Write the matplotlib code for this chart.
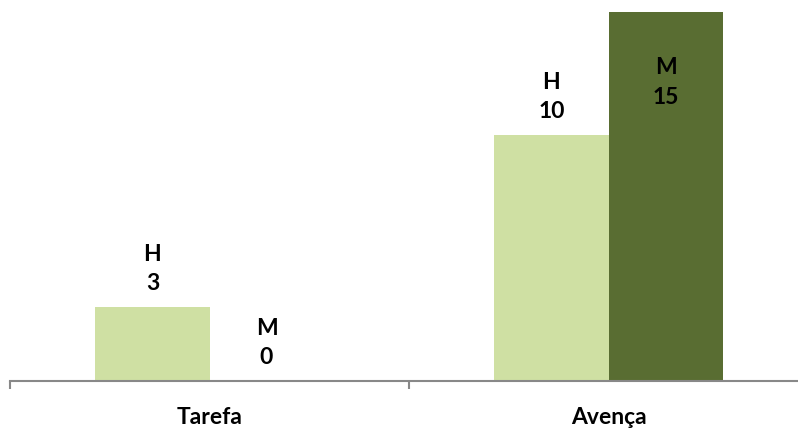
import matplotlib
matplotlib.use("Agg")

import numpy as np
import matplotlib.pyplot as plt
from matplotlib.ticker import FixedLocator

# --- Data ---
categories = ["Tarefa", "Avença"]
h_values = [3, 10]
m_values = [0, 15]
series_names = ["H", "M"]

LIGHT = "#CFE0A3"
DARK = "#596D32"
AXIS_GRAY = "#888888"

plt.rcParams["font.family"] = ["Lato", "DejaVu Sans"]
FS = 16.5

W, H = 798, 431
fig = plt.figure(figsize=(W / 100, H / 100), dpi=100)
# axes in pixel terms: x from 10 to 808, baseline at y=382 (from top)
ax = fig.add_axes([10 / W, (H - 382) / H, 798 / W, 382 / H])

x = np.arange(len(categories))
bw = 0.286
bars_h = ax.bar(x - bw / 2, h_values, bw, color=LIGHT, zorder=2)
bars_m = ax.bar(x + bw / 2, m_values, bw, color=DARK, zorder=2)

ax.set_xlim(-0.5, 1.5)
ax.set_ylim(0, 15 * 382 / 369)

for name, bars, vals in zip(series_names, [bars_h, bars_m], [h_values, m_values]):
    for b, v in zip(bars, vals):
        cx = b.get_x() + b.get_width() / 2
        if v >= 14:
            # no room above the tallest bar -> label sits inside, near the top
            ax.annotate(f"{name}\n{v}", (cx, v), xytext=(0, -32),
                        textcoords="offset points", ha="center", va="top",
                        fontsize=FS, fontweight="bold", linespacing=1.5,
                        color="black")
        else:
            ax.annotate(f"{name}\n{v}", (cx, v), xytext=(0, 10),
                        textcoords="offset points", ha="center", va="bottom",
                        fontsize=FS, fontweight="bold", linespacing=1.5,
                        color="black")

for s in ["top", "right", "left"]:
    ax.spines[s].set_visible(False)
ax.spines["bottom"].set_color(AXIS_GRAY)
ax.spines["bottom"].set_linewidth(1.5)
ax.set_yticks([])

ax.set_xticks(x)
ax.set_xticklabels(categories, fontsize=FS, fontweight="bold")
ax.tick_params(axis="x", which="major", length=0, pad=18)
ax.xaxis.set_minor_locator(FixedLocator([-0.5, 0.5, 1.5]))
ax.tick_params(axis="x", which="minor", length=6, width=1.5, color=AXIS_GRAY)

fig.savefig("out.png", dpi=100)
